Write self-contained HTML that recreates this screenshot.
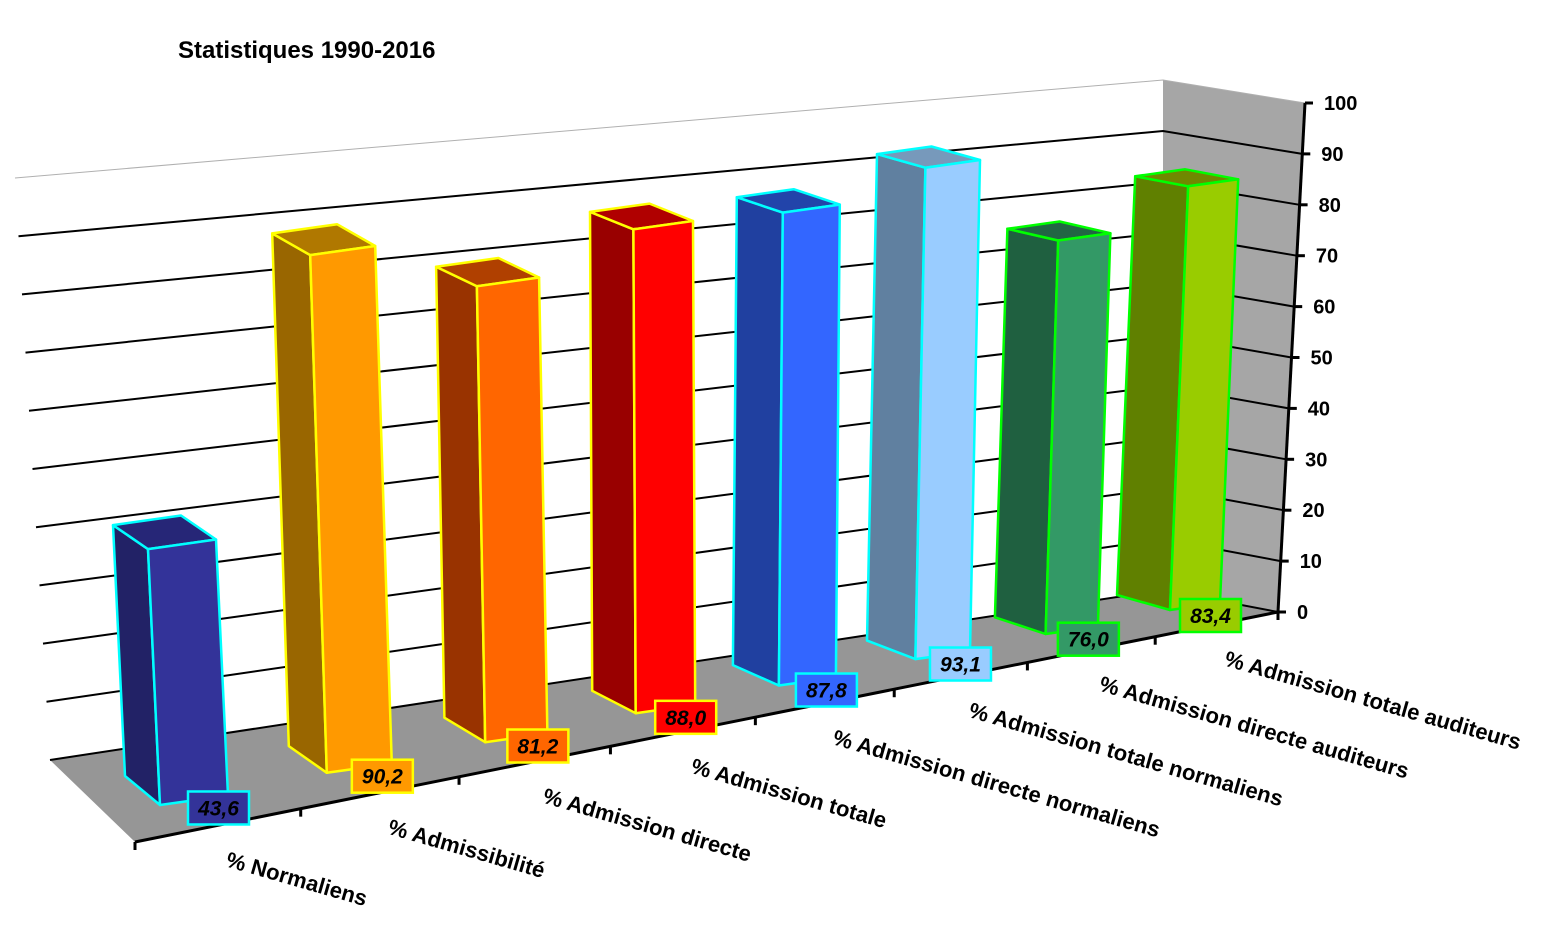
<!DOCTYPE html>
<html><head><meta charset="utf-8">
<style>
body{margin:0;background:#fff;}
svg{display:block;font-family:"Liberation Sans",Arial,sans-serif;}
</style></head>
<body>
<svg id="chart" width="1554" height="937" viewBox="0 0 1554 937" xmlns="http://www.w3.org/2000/svg">
<text x="178" y="58" font-size="24" font-weight="bold" fill="#000">Statistiques 1990-2016</text>
<g id="walls"></g><g id="bars"></g><g id="labels"></g>
</svg>
<script>
const categories = ["% Normaliens","% Admissibilité","% Admission directe","% Admission totale","% Admission directe normaliens","% Admission totale normaliens","% Admission directe auditeurs","% Admission totale auditeurs"];
const values = [43.6, 90.2, 81.2, 88.0, 87.8, 93.1, 76.0, 83.4];
const valueLabels = ["43,6","90,2","81,2","88,0","87,8","93,1","76,0","83,4"];
const yTicks = [0,10,20,30,40,50,60,70,80,90,100];
const fronts = ["#333399","#ff9900","#ff6600","#ff0000","#3366ff","#99ccff","#339966","#99cc00"];
const sides  = ["#222266","#996600","#993300","#990000","#2040a0","#6080a0","#1f6040","#608000"];
const tops   = ["#262677","#b07800","#b04000","#b00000","#2244aa","#7799bb","#226644","#708800"];
const borders= ["#00ffff","#ffff00","#ffff00","#ffff00","#00ffff","#00ffff","#00ff00","#00ff00"];

const NS="http://www.w3.org/2000/svg";
function mk(tag, parent, attrs){const e=document.createElementNS(NS,tag);for(const k in attrs)e.setAttribute(k,attrs[k]);parent.appendChild(e);return e;}
function pts(a){return a.map(p=>p[0].toFixed(1)+","+p[1].toFixed(1)).join(" ");}
const C=0.187;
function proj(t){return t*(1+C)/(1+C*t);}
const N=categories.length;
// back wall value mapping
function backLeft(v){return [50-0.35*v, 760-5.82*v];}
function backRight(v){return [1163, 590-5.1*v];}
function axisPt(v){return [1278+0.27*v, 612-5.09*v];}
function frontAxis(u){return [135+1143*u, 842-230*u];}

const walls=document.getElementById('walls');
const bl=document.getElementById('bars');
const lb=document.getElementById('labels');

let e=mk('polygon',walls,{points:pts([backRight(0),backRight(100),axisPt(100),axisPt(0)]),fill:"#a6a6a6"});


e=mk('polygon',walls,{points:pts([backLeft(0),backRight(0),axisPt(0),frontAxis(0)]),fill:"#969696"});



yTicks.forEach((v,i)=>{
  const a=backLeft(v), b=backRight(v), c=axisPt(v);
  const top = v===100;
  let g=mk('polyline',walls,{points:pts([a,b,c]),fill:"none",stroke:top?"#b0b0b0":"#000","stroke-width":top?1:2});
  
  
  let tk=mk('line',walls,{x1:c[0],y1:c[1],x2:c[0]+8,y2:c[1],stroke:"#000","stroke-width":3});
  
  
  let tx=mk('text',walls,{x:c[0]+19,y:c[1]+7,"font-size":20,"font-weight":"bold",fill:"#000"});
  tx.textContent=String(v);
  
  
});
e=mk('line',walls,{x1:axisPt(0)[0],y1:axisPt(0)[1],x2:axisPt(100)[0],y2:axisPt(100)[1],stroke:"#000","stroke-width":3});


const fa0=frontAxis(0), fa1=frontAxis(1);
e=mk('line',walls,{x1:fa0[0],y1:fa0[1],x2:fa1[0],y2:fa1[1],stroke:"#000","stroke-width":3});


for(let k=0;k<=N;k++){
  const p=frontAxis(proj(k/N));
  let t=mk('line',walls,{x1:p[0],y1:p[1],x2:p[0],y2:p[1]+8,stroke:"#000","stroke-width":3});
  
  
}

// bars drawn far (right) to near (left)
for(let i=N-1;i>=0;i--){
  const u=proj(i/(N-1));
  const BL=[160+1010*u, 805-195*u];
  const w=68-18*u;
  const BR=[BL[0]+w, BL[1]-0.14*w];
  const scale=5.87-0.79*u;
  const h=values[i]*scale;
  const lean=(-0.047+0.09*u)*h;
  const TL=[BL[0]+lean, BL[1]-h];
  const TR=[BR[0]+lean, BR[1]-h];
  const dT=[-35-18*u, -24+14*u];
  const dB=[-35-18*u, -29+14*u];
  const g=mk('g',bl,{});
  
  
  const sw=2.5;
  let s=mk('polygon',g,{points:pts([[TL[0]+dT[0],TL[1]+dT[1]],TL,BL,[BL[0]+dB[0],BL[1]+dB[1]]]),fill:sides[i],stroke:borders[i],"stroke-width":sw,"stroke-linejoin":"round"});
  
  
  let tp=mk('polygon',g,{points:pts([TL,TR,[TR[0]+dT[0],TR[1]+dT[1]],[TL[0]+dT[0],TL[1]+dT[1]]]),fill:tops[i],stroke:borders[i],"stroke-width":sw,"stroke-linejoin":"round"});
  
  
  let f=mk('polygon',g,{points:pts([TL,TR,BR,BL]),fill:fronts[i],stroke:borders[i],"stroke-width":sw,"stroke-linejoin":"round"});
  
  
  // value label
  const bx=BR[0]-40, by=BR[1]-4;
  let r=mk('rect',lb,{x:bx,y:by,width:61,height:33,fill:fronts[i],stroke:borders[i],"stroke-width":2.5});
  
  
  let vt=mk('text',lb,{x:bx+30.5,y:by+24,"text-anchor":"middle","font-size":21,"font-weight":"bold","font-style":"italic",fill:"#000"});
  vt.textContent=valueLabels[i];
  
  
  // category label
  const m=frontAxis(proj((i+0.5)/N));
  let ct=mk('text',lb,{x:0,y:0,transform:`translate(${(m[0]+6).toFixed(1)},${(m[1]+41).toFixed(1)}) rotate(16)`,"font-size":22,"font-weight":"bold",fill:"#000"});
  ct.textContent=categories[i];
  
  
}
</script>
</body></html>
